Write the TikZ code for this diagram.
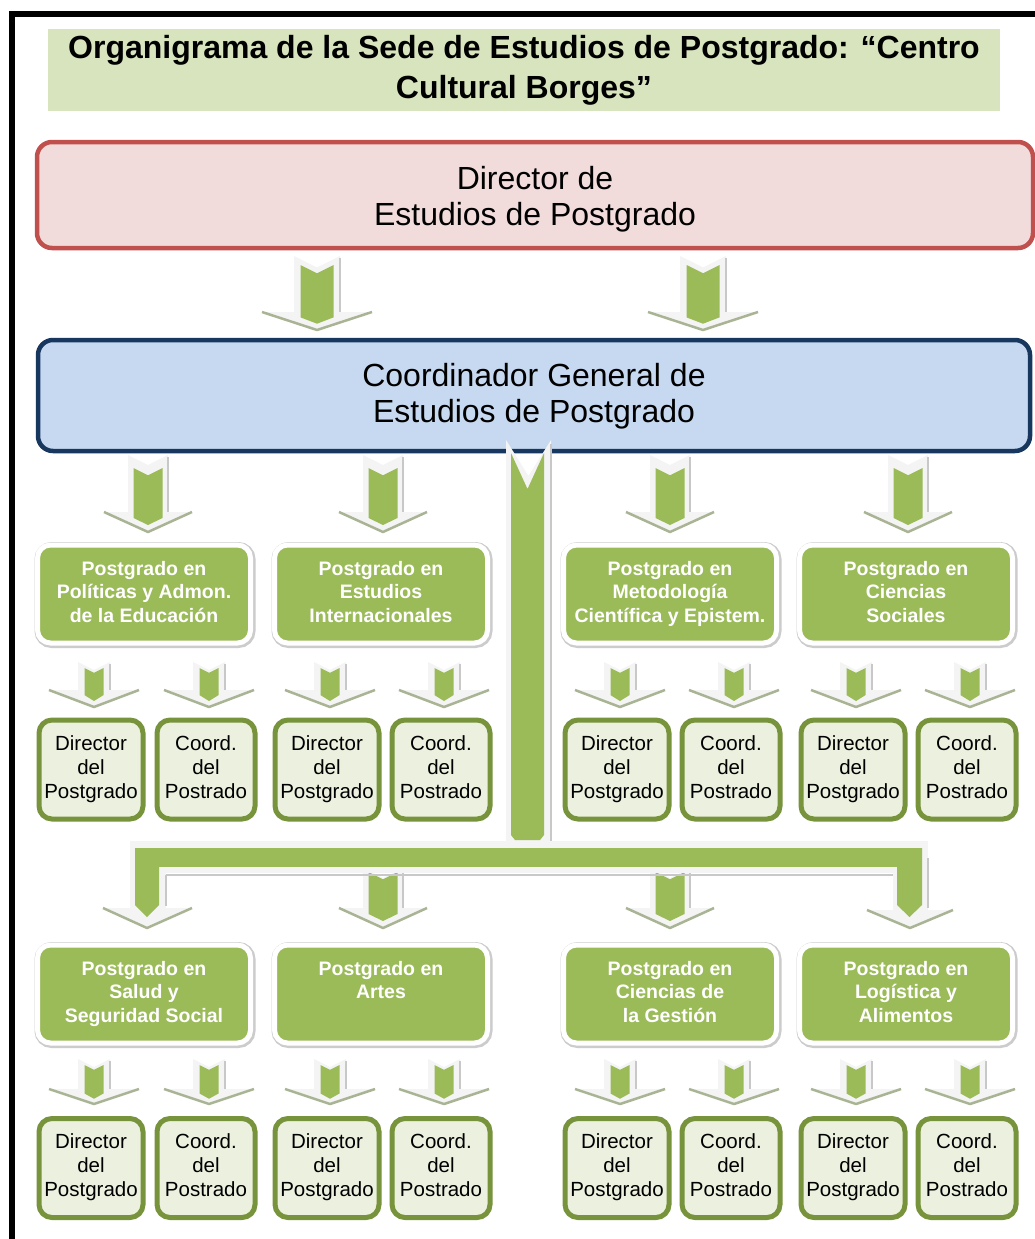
\documentclass[tikz,border=0pt]{standalone}
\usepackage{fontspec}
\setmainfont{Liberation Sans}
\usetikzlibrary{calc}

\definecolor{titlebg}{HTML}{D7E4BD}
\definecolor{redfill}{HTML}{F2DCDB}
\definecolor{redline}{HTML}{C0504D}
\definecolor{bluefill}{HTML}{C6D9F1}
\definecolor{blueline}{HTML}{17375E}
\definecolor{olive}{HTML}{9BBB59}
\definecolor{oliveline}{HTML}{77933C}
\definecolor{palegreen}{HTML}{EBF1DE}
\definecolor{rimfill}{HTML}{F4F4F4}
\definecolor{rimedge}{HTML}{C8C8C8}
\definecolor{headedge}{HTML}{A9B494}

\tikzset{
  x=1pt, y=-1pt,
  topbox/.style={rounded corners=15pt, line width=4.5pt, align=center,
    font=\fontsize{32}{36}\selectfont, inner sep=0pt},
  dirbox/.style={topbox, draw=redline, fill=redfill,
    minimum width=996pt, minimum height=106pt},
  coordbox/.style={topbox, draw=blueline, fill=bluefill,
    minimum width=992pt, minimum height=111pt},
  catbox/.style={rounded corners=13pt, fill=olive, draw=white, line width=5pt,
    preaction={draw=black!20, line width=8pt,
      transform canvas={shift={(1pt,-1pt)}}},
    minimum width=213pt, minimum height=98pt, align=center, text=white,
    font=\bfseries\fontsize{19.5}{23.5}\selectfont, inner sep=0pt},
  subbox/.style={rounded corners=13pt, fill=palegreen, draw=oliveline,
    line width=5pt, minimum height=99pt, align=center,
    font=\fontsize{20.5}{24}\selectfont, inner sep=0pt},
  dbox/.style={subbox, minimum width=104pt},
  cbox/.style={subbox, minimum width=98pt},
  arrowrim/.style={fill=rimfill},
  arrowside/.style={draw=rimedge, line width=1.5pt},
  headedgeline/.style={draw=headedge, line width=2.5pt, line join=round},
  greenbar/.style={fill=olive},
}

% block arrow: #1 centre x, #2 top, #3 head base, #4 tip, #5 rim half width,
% #6 head half width, #7 green half width, #8 top of the green shaft
\newcommand{\blockarrow}[8]{%
  \fill[arrowrim] ({#1-#5},#2) -- (#1,{#2+0.5*#5}) -- ({#1+#5},#2)
    -- ({#1+#5},#3) -- ({#1+#6},#3) -- (#1,#4) -- ({#1-#6},#3)
    -- ({#1-#5},#3) -- cycle;
  \draw[arrowside] ({#1+#5},{#2+2}) -- ({#1+#5},#3);
  \draw[headedgeline] ({#1-#6},#3) -- (#1,#4) -- ({#1+#6},#3);
  \fill[greenbar] ({#1-#7},#8) -- (#1,{#8+0.5*#7}) -- ({#1+#7},#8)
    -- ({#1+#7},{#3+0.3*(#4-#3)}) -- (#1,{#4-0.35*(#4-#3)})
    -- ({#1-#7},{#3+0.3*(#4-#3)}) -- cycle;
}
\newcommand{\bigdown}[1]{\blockarrow{#1}{455}{512}{532}{20}{44}{14.5}{468}}
\newcommand{\middown}[1]{\blockarrow{#1}{868}{908}{928}{20}{44}{14.5}{872}}
\newcommand{\smalldownA}[1]{\blockarrow{#1}{662}{690}{707}{16}{45}{9.5}{668}}
\newcommand{\smalldownB}[1]{\blockarrow{#1}{1059}{1089}{1104}{16}{45}{9.5}{1065}}

\begin{document}
\begin{tikzpicture}
\useasboundingbox (0,0) rectangle (1035,1239);
\clip (0,0) rectangle (1035,1239);
\fill[white] (0,0) rectangle (1035,1239);

% outer frame
\draw[line width=6pt] (11.5,1250) -- (11.5,14.5) -- (1050,14.5);

% title
\node[fill=titlebg, minimum width=952pt, minimum height=82pt, inner sep=0pt,
  align=center, font=\bfseries\fontsize{32}{40}\selectfont] (title) at (524,70)
  {Organigrama de la Sede de Estudios de Postgrado: “Centro\\Cultural Borges”};

% top levels
\node[dirbox] (dir) at (535,195)
  {\rule{0pt}{31pt}Director de\\Estudios de Postgrado};
\node[coordbox] (coord) at (534,395.5)
  {\rule{0pt}{25pt}Coordinador General de\\Estudios de Postgrado};

% programmes, first row
\node[catbox] (p1) at (144,594) {\strut Postgrado en\\Políticas y Admon.\\de la Educación\strut};
\node[catbox] (p2) at (381,594) {\strut Postgrado en\\Estudios\\Internacionales\strut};
\node[catbox] (p3) at (670,594) {\strut Postgrado en\\Metodología\\Científica y Epistem.\strut};
\node[catbox] (p4) at (906,594) {\strut Postgrado en\\Ciencias\\Sociales\strut};

% programmes, second row
\node[catbox] (p5) at (144,994) {\strut Postgrado en\\Salud y\\Seguridad Social\strut};
\node[catbox] (p6) at (381,994) {\strut Postgrado en\\Artes\\\strut};
\node[catbox] (p7) at (670,994) {\strut Postgrado en\\Ciencias de\\la Gestión\strut};
\node[catbox] (p8) at (906,994) {\strut Postgrado en\\Logística y\\Alimentos\strut};

% directors and coordinators of each programme
\foreach \row/\y in {1/769.5, 2/1168}{
  \foreach \k/\dx/\cx in {1/91/206, 2/327/441, 3/617/731, 4/853/967}{
    \node[dbox] (d\row\k) at (\dx,\y) {\strut Director\\del\\Postgrado\strut};
    \node[cbox] (c\row\k) at (\cx,\y) {\strut Coord.\\del\\Postrado\strut};
  }
}

% arrows from the director to the general coordinator
\blockarrow{317}{256}{312}{330}{23}{55}{16.5}{265}
\blockarrow{703}{256}{312}{330}{23}{55}{16.5}{265}

% arrows to the first row of programmes
\bigdown{148}
\bigdown{383}
\bigdown{670}
\bigdown{908}

% arrows to the sub-units
\foreach \cx in {94,209,330,444,620,734,856,970}{
  \smalldownA{\cx}
  \smalldownB{\cx}
}

% middle arrows of the second row
\middown{383}
\middown{670}

% trunk from the general coordinator down to the second row
\fill[arrowrim] (506,440) -- (528.5,476) -- (551,440) -- (551,845) -- (506,845) -- cycle;
\draw[arrowside] (551,444) -- (551,842);
\fill[greenbar] (511,453) -- (527.5,489) -- (544,453) -- (544,835) -- (540,840)
  -- (515,840) -- (511,835) -- cycle;

% horizontal branch with its two bent ends
\fill[arrowrim] (130,841) rectangle (926,873);
\fill[arrowrim] (130,841) rectangle (166,909);
\fill[arrowrim] (103,908) -- (147,928) -- (192,908) -- cycle;
\fill[arrowrim] (893,841) rectangle (928,911);
\fill[arrowrim] (867,910) -- (910,928) -- (953,910) -- cycle;
\draw[arrowside] (166,875) -- (893,875);
\draw[arrowside] (166,875) -- (166,906);
\draw[arrowside] (928,858) -- (928,908);
\draw[headedgeline] (103,908) -- (147,928) -- (192,908);
\draw[headedgeline] (867,910) -- (910,928) -- (953,910);
\fill[greenbar] (138,848) rectangle (918,867);
\fill[greenbar] (135,848) -- (159,848) -- (159,905) -- (147,917) -- (135,905) -- cycle;
\fill[greenbar] (897,848) -- (922,848) -- (922,905) -- (909.5,917) -- (897,905) -- cycle;
\end{tikzpicture}
\end{document}
